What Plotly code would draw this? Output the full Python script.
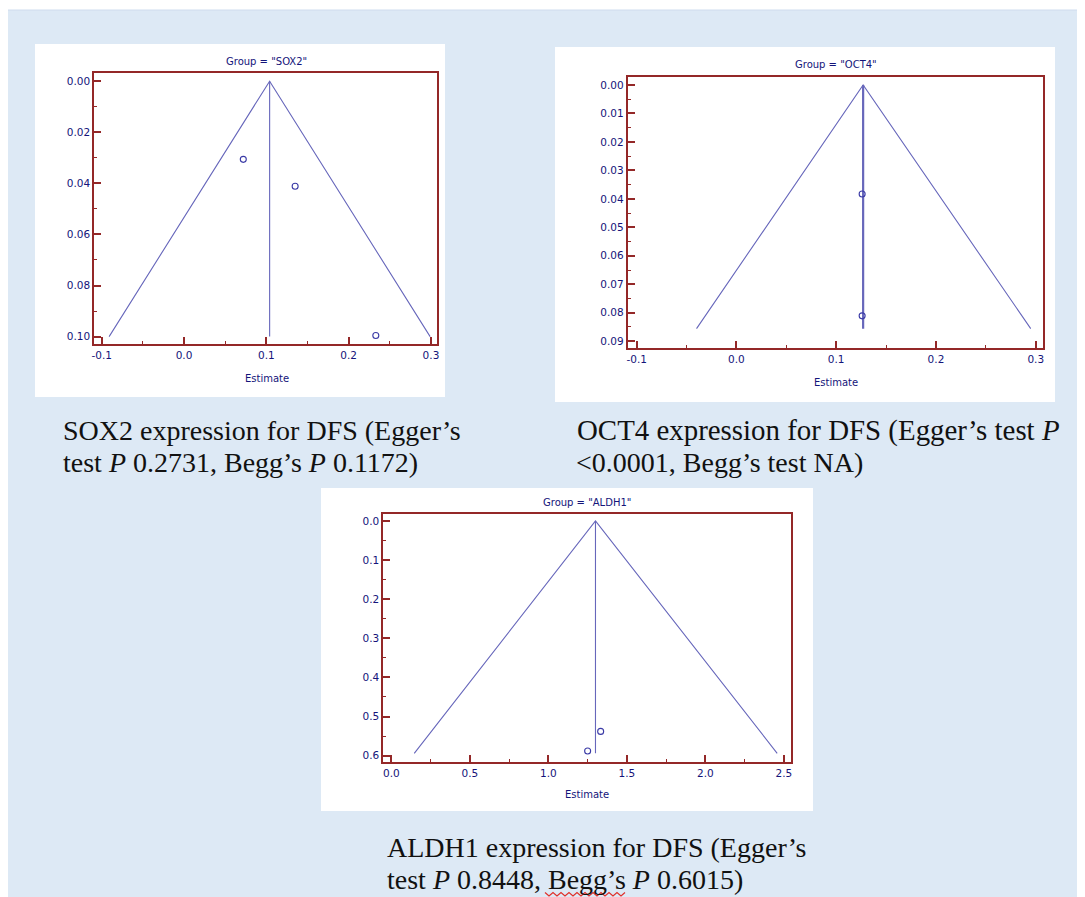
import plotly.graph_objects as go

# page is drawn with an 8px body margin; figure overflows slightly and is clipped by the window
OFF = 8
W, H = 1085, 897

# ---------------- data ----------------
groups = ["SOX2", "OCT4", "ALDH1"]

# study points: estimate (x) and standard error (y)
sox2_est = [0.072, 0.135, 0.233]
sox2_se = [0.0306, 0.0411, 0.0996]
oct4_est = [0.126, 0.126]
oct4_se = [0.0383, 0.0811]
aldh1_est = [1.333, 1.250]
aldh1_se = [0.538, 0.588]

# funnel outline (left foot, apex, right foot); apex x = pooled estimate
sox2_funnel_x = [-0.091, 0.104, 0.299]
sox2_funnel_y = [0.100, 0.0, 0.100]
oct4_funnel_x = [-0.040, 0.127, 0.295]
oct4_funnel_y = [0.0856, 0.0, 0.0856]
aldh1_funnel_x = [0.146, 1.300, 2.457]
aldh1_funnel_y = [0.594, 0.0, 0.594]

# tick labels
sox2_xticks = [-0.1, 0.0, 0.1, 0.2, 0.3]
sox2_xlabels = ["-0.1", "0.0", "0.1", "0.2", "0.3"]
sox2_yticks = [0.00, 0.02, 0.04, 0.06, 0.08, 0.10]
sox2_ylabels = ["0.00", "0.02", "0.04", "0.06", "0.08", "0.10"]
oct4_xticks = [-0.1, 0.0, 0.1, 0.2, 0.3]
oct4_xlabels = ["-0.1", "0.0", "0.1", "0.2", "0.3"]
oct4_yticks = [0.00, 0.01, 0.02, 0.03, 0.04, 0.05, 0.06, 0.07, 0.08, 0.09]
oct4_ylabels = ["0.00", "0.01", "0.02", "0.03", "0.04", "0.05", "0.06", "0.07", "0.08", "0.09"]
aldh1_xticks = [0.0, 0.5, 1.0, 1.5, 2.0, 2.5]
aldh1_xlabels = ["0.0", "0.5", "1.0", "1.5", "2.0", "2.5"]
aldh1_yticks = [0.0, 0.1, 0.2, 0.3, 0.4, 0.5, 0.6]
aldh1_ylabels = ["0.0", "0.1", "0.2", "0.3", "0.4", "0.5", "0.6"]

captions = [
    ["SOX2 expression for DFS (Egger’s", "test <i>P</i> 0.2731, Begg’s <i>P</i> 0.1172)"],
    ["OCT4 expression for DFS (Egger’s test <i>P</i>", "<0.0001, Begg’s test NA)"],
    ["ALDH1 expression for DFS (Egger’s", "test <i>P</i> 0.8448, Begg’s <i>P</i> 0.6015)"],
]

# ---------------- styling ----------------
LINE_C = "#6767bb"
MARK_C = "#3a3aa6"
TEXT_C = "#14147a"
FRAME_C = "#942828"
BG_BLUE = "#dde9f5"
SANS = "DejaVu Sans, Verdana, sans-serif"
SERIF = "Liberation Serif, Times New Roman, serif"


def px(x):
    return (x - OFF) / W


def py(y):
    return 1 - (y - OFF) / H


panels = [
    dict(est=sox2_est, se=sox2_se, fx=sox2_funnel_x, fy=sox2_funnel_y,
         xt=sox2_xticks, xl=sox2_xlabels, yt=sox2_yticks, yl=sox2_ylabels,
         white=(35, 44, 445, 397), frame=(94.3, 73.3, 437.3, 344.0),
         xr=[-0.109, 0.3077], yr=[0.1029, -0.0031], xm=0.05, ym=0.01,
         title=(266.7, 61), est_lbl=(266.5, 378), vw=1),
    dict(est=oct4_est, se=oct4_se, fx=oct4_funnel_x, fy=oct4_funnel_y,
         xt=oct4_xticks, xl=oct4_xlabels, yt=oct4_yticks, yl=oct4_ylabels,
         white=(555, 47, 1055, 402), frame=(627.7, 77.3, 1042.7, 348.3),
         xr=[-0.109, 0.307], yr=[0.0925, -0.0027], xm=0.05, ym=0.005,
         title=(836, 64.3), est_lbl=(836, 383), vw=2),
    dict(est=aldh1_est, se=aldh1_se, fx=aldh1_funnel_x, fy=aldh1_funnel_y,
         xt=aldh1_xticks, xl=aldh1_xlabels, yt=aldh1_yticks, yl=aldh1_ylabels,
         white=(321, 488, 813, 811), frame=(383.3, 514.3, 790.7, 762.3),
         xr=[-0.051, 2.543], yr=[0.617, -0.017], xm=0.25, ym=0.05,
         title=(586.7, 502.3), est_lbl=(586.7, 794), vw=1),
]

fig = go.Figure()
shapes = [
    dict(type="rect", xref="paper", yref="paper", x0=px(6), x1=px(1100), y0=py(910), y1=py(10),
         fillcolor=BG_BLUE, line=dict(color="#cfdcee", width=1), layer="below"),
]
annotations = []
layout_axes = {}

for i, (g, p) in enumerate(zip(groups, panels), start=1):
    xa = "x" if i == 1 else f"x{i}"
    ya = "y" if i == 1 else f"y{i}"
    x0, y0, x1, y1 = p["white"]
    shapes.append(dict(type="rect", xref="paper", yref="paper", x0=px(x0), x1=px(x1),
                       y0=py(y1), y1=py(y0), fillcolor="white", line=dict(width=0), layer="below"))
    fig.add_trace(go.Scatter(x=p["fx"], y=p["fy"], mode="lines", xaxis=xa, yaxis=ya,
                             line=dict(color=LINE_C, width=1.1), hoverinfo="skip", showlegend=False))
    fig.add_trace(go.Scatter(x=[p["fx"][1], p["fx"][1]], y=[p["fy"][1], p["fy"][0]], mode="lines",
                             xaxis=xa, yaxis=ya, line=dict(color=LINE_C, width=p["vw"] * 1.1),
                             hoverinfo="skip", showlegend=False))
    fig.add_trace(go.Scatter(x=p["est"], y=p["se"], mode="markers", xaxis=xa, yaxis=ya,
                             marker=dict(symbol="circle-open", size=6, color=MARK_C,
                                         line=dict(width=1.1, color=MARK_C)),
                             showlegend=False, name=g))
    fx0, fy0, fx1, fy1 = p["frame"]
    common = dict(showline=True, linecolor=FRAME_C, linewidth=2, mirror=True, showgrid=False,
                  zeroline=False, ticks="inside", tickcolor=FRAME_C, ticklen=7, tickwidth=2,
                  automargin=False,
                  tickfont=dict(family=SANS, size=10.5, color=TEXT_C))
    layout_axes["xaxis" if i == 1 else f"xaxis{i}"] = dict(
        domain=[px(fx0), px(fx1)], anchor=ya, range=p["xr"],
        tickmode="array", tickvals=p["xt"], ticktext=p["xl"],
        minor=dict(ticks="inside", dtick=p["xm"], tick0=0, ticklen=3, tickcolor=FRAME_C, tickwidth=1),
        **common)
    layout_axes["yaxis" if i == 1 else f"yaxis{i}"] = dict(
        domain=[py(fy1), py(fy0)], anchor=xa, range=p["yr"],
        tickmode="array", tickvals=p["yt"], ticktext=p["yl"],
        minor=dict(ticks="inside", dtick=p["ym"], tick0=0, ticklen=3, tickcolor=FRAME_C, tickwidth=1),
        **common)
    tx, ty = p["title"]
    annotations.append(dict(xref="paper", yref="paper", x=px(tx), y=py(ty), xanchor="center",
                            yanchor="middle", showarrow=False, text=f'Group = "{g}"',
                            font=dict(family=SANS, size=10, color=TEXT_C)))
    ex, ey = p["est_lbl"]
    annotations.append(dict(xref="paper", yref="paper", x=px(ex), y=py(ey), xanchor="center",
                            yanchor="middle", showarrow=False, text="Estimate",
                            font=dict(family=SANS, size=10, color=TEXT_C)))

# captions (first lines are justified in the source, so OCT4's first line is a bit wider)
cap_pos = [((60.5, 430), (60.5, 462.5)), ((575, 430), (574, 462.5)), ((385, 847), (385, 879))]
cap_size = [(28, 28), (28.9, 28), (28, 28)]
for lines, pos, sizes in zip(captions, cap_pos, cap_size):
    for txt, (cx, cy), sz in zip(lines, pos, sizes):
        annotations.append(dict(xref="paper", yref="paper", x=px(cx), y=py(cy), xanchor="left",
                                yanchor="middle", showarrow=False, text=txt,
                                font=dict(family=SERIF, size=sz, color="#111111")))

# red wavy spell-check underline under "Begg's"
zx = [545 + k * 4 for k in range(21)]
path = "M " + " L ".join(f"{px(x):.5f},{py(892.5 if k % 2 == 0 else 896):.5f}" for k, x in enumerate(zx))
shapes.append(dict(type="path", xref="paper", yref="paper", path=path,
                   line=dict(color="#e0302a", width=1.2)))

fig.update_layout(width=W, height=H, margin=dict(l=0, r=0, t=0, b=0),
                  paper_bgcolor="white", plot_bgcolor="white",
                  shapes=shapes, annotations=annotations, **layout_axes)

fig.write_html("out.html")
